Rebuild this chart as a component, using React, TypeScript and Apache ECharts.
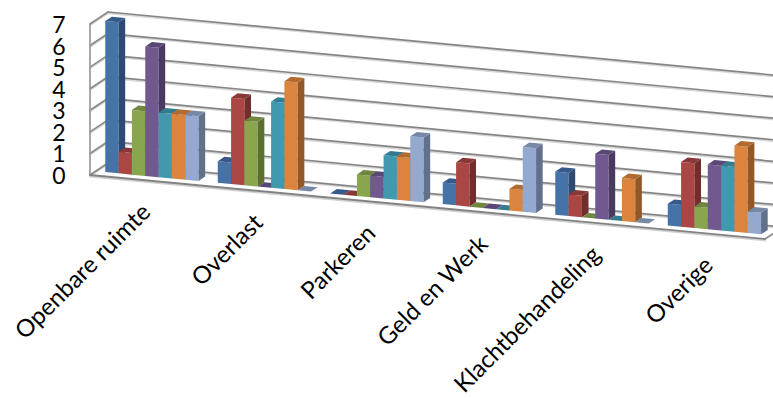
import React, { useEffect, useRef } from "react";
import * as echarts from "echarts";

const categories = ["Openbare ruimte", "Overlast", "Parkeren", "Geld en Werk", "Klachtbehandeling", "Overige"];
const yTicks = [0, 1, 2, 3, 4, 5, 6, 7];

const blueValues = [7, 1, 0, 1, 2, 1];
const redValues = [1, 4, 0, 2, 1, 3];
const greenValues = [3, 3, 1, 0, 0, 1];
const purpleValues = [6, 0, 1, 0, 3, 3];
const tealValues = [3, 4, 2, 0, 0, 3];
const orangeValues = [3, 5, 2, 1, 2, 4];
const lightBlueValues = [3, 0, 3, 3, 0, 1];

const seriesValues = [blueValues, redValues, greenValues, purpleValues, tealValues, orangeValues, lightBlueValues];

// front, top and side shades of each column
const shades = [
  ["#4573a7", "#36598a", "#2e4a72"],
  ["#aa4643", "#8a3836", "#722e2d"],
  ["#89a54e", "#6f8540", "#5c6f33"],
  ["#71588f", "#5b4773", "#4a3a60"],
  ["#4198af", "#337b8e", "#2b6575"],
  ["#db843d", "#b16a30", "#935827"],
  ["#93a9cf", "#7788a7", "#62718b"],
];

// oblique projection of the plot box
const GRID_LEFT = 90;
const GRID_TOP = 24;
const GRID_WIDTH = 675;
const GRID_HEIGHT = 151;
const SHEAR = 0.0948;
const WALL_DX = 18;
const WALL_DY = -12;
const BAR_SPAN = 0.1185;
const GROUP_GAP = 0.085;
const BAR_DX = 6.6;
const BAR_DY = -4.4;
const BAR_INSET_DX = 5.7;
const BAR_INSET_DY = -3.8;

const sheared = (api: any, u: number, v: number, dx = 0, dy = 0): number[] => {
  const [px, py] = api.coord([u, v]);
  return [px + dx, py + (px - GRID_LEFT) * SHEAR + dy];
};

const renderBar = (seriesIndex: number) => (_: any, api: any) => {
  const cat = api.value(0);
  const value = api.value(1);
  const u0 = cat + GROUP_GAP + seriesIndex * BAR_SPAN;
  const u1 = u0 + BAR_SPAN;
  const p = (u: number, v: number, back: boolean) =>
    sheared(api, u, v, BAR_INSET_DX + (back ? BAR_DX : 0), BAR_INSET_DY + (back ? BAR_DY : 0));
  const [front, top, side] = shades[seriesIndex];
  const poly = (points: number[][], fill: string) => ({
    type: "polygon",
    shape: { points },
    style: { fill, stroke: "none" },
  });
  const faces = [poly([p(u0, value, false), p(u1, value, false), p(u1, value, true), p(u0, value, true)], top)];
  if (value > 0) {
    faces.unshift(poly([p(u1, 0, false), p(u1, 0, true), p(u1, value, true), p(u1, value, false)], side));
    faces.unshift(poly([p(u0, 0, false), p(u1, 0, false), p(u1, value, false), p(u0, value, false)], front));
  }
  return { type: "group", children: faces };
};

const lineEl = (a: number[], b: number[], stroke: string, lineWidth: number) => ({
  type: "line",
  shape: { x1: a[0], y1: a[1], x2: b[0], y2: b[1] },
  style: { stroke, lineWidth, lineCap: "round" },
});

const renderGridLine = (_: any, api: any) => {
  const v = api.value(0);
  const a = sheared(api, 0, v);
  const b = sheared(api, 0, v, WALL_DX, WALL_DY);
  const c = sheared(api, 6, v, WALL_DX, WALL_DY);
  const shift = (q: number[]) => [q[0], q[1] + 1.4];
  return {
    type: "group",
    children: [
      lineEl(shift(a), shift(b), "#d8d8d8", 1.6),
      lineEl(shift(b), shift(c), "#d8d8d8", 1.6),
      lineEl(a, b, "#8a8a8a", 1.7),
      lineEl(b, c, "#858585", 1.7),
    ],
  };
};

const renderFrame = (_: any, api: any) => {
  const a = sheared(api, 0, 0);
  const t = sheared(api, 0, 7);
  const r = sheared(api, 6, 0);
  const rb = sheared(api, 6, 0, WALL_DX, WALL_DY);
  return {
    type: "group",
    children: [
      lineEl(a, t, "#999999", 1.7),
      lineEl([a[0], a[1] + 1.5], [r[0], r[1] + 1.5], "#d0d0d0", 1.8),
      lineEl(a, r, "#828282", 1.9),
      lineEl(r, rb, "#8a8a8a", 1.7),
    ],
  };
};

const renderValueLabel = (_: any, api: any) => {
  const v = api.value(0);
  const [x, y] = sheared(api, 0, v, -24.5, 0);
  return {
    type: "text",
    x,
    y,
    style: {
      text: String(v),
      fontFamily: "Lato",
      fontSize: 23,
      lineHeight: 20,
      fill: "#000000",
      textAlign: "right",
      textVerticalAlign: "middle",
    },
  };
};

const renderCategoryLabel = (_: any, api: any) => {
  const i = api.value(0);
  const [x, y] = sheared(api, i + 0.5, 0, -9.5, 18);
  return {
    type: "text",
    x,
    y,
    rotation: Math.PI / 4,
    style: {
      text: categories[i],
      fontFamily: "Lato",
      fontSize: 24,
      fill: "#000000",
      textAlign: "right",
      textVerticalAlign: "top",
    },
  };
};

export default function App() {
  const ref = useRef<HTMLDivElement>(null);

  useEffect(() => {
    if (!ref.current) return;
    const chart = echarts.init(ref.current, undefined, { renderer: "svg" });
    chart.setOption({
      animation: false,
      backgroundColor: "#ffffff",
      grid: { left: GRID_LEFT, top: GRID_TOP, width: GRID_WIDTH, height: GRID_HEIGHT },
      xAxis: { type: "value", min: 0, max: categories.length, show: false },
      yAxis: { type: "value", min: 0, max: 7, interval: 1, show: false },
      series: [
        { type: "custom", silent: true, z: 1, renderItem: renderGridLine, data: yTicks.map((v) => [v]) },
        { type: "custom", silent: true, z: 2, renderItem: renderFrame, data: [[0]] },
        ...seriesValues.map((values, s) => ({
          type: "custom",
          silent: true,
          z: 3 + s,
          renderItem: renderBar(s),
          data: values.map((v, i) => [i, v]),
        })),
        { type: "custom", silent: true, z: 20, renderItem: renderValueLabel, data: yTicks.map((v) => [v]) },
        {
          type: "custom",
          silent: true,
          z: 20,
          renderItem: renderCategoryLabel,
          data: categories.map((_, i) => [i]),
        },
      ],
    });
    return () => chart.dispose();
  }, []);

  return <div ref={ref} style={{ position: "absolute", left: 0, top: 0, width: 773, height: 398 }} />;
}
